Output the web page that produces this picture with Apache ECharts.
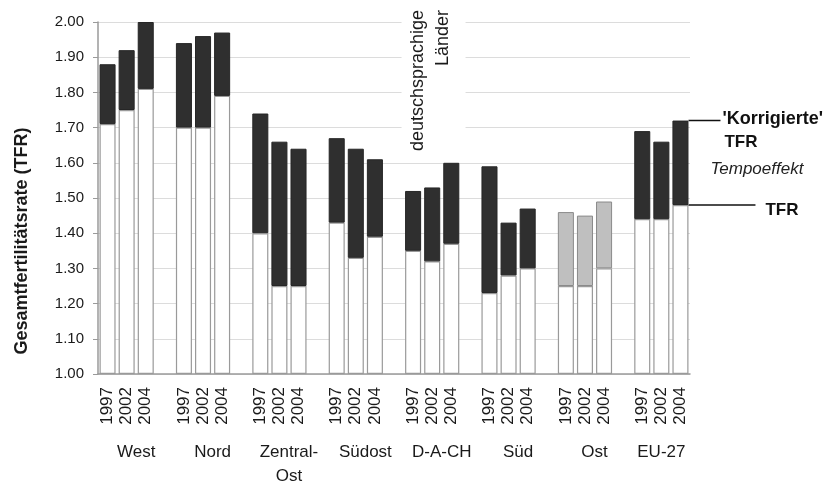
<!DOCTYPE html>
<html>
<head>
<meta charset="utf-8">
<script src="https://cdn.jsdelivr.net/npm/echarts@6/dist/echarts.min.js"></script>
<style>html,body{margin:0;padding:0;background:#fff}#c{width:833px;height:486px}</style>
</head>
<body>
<div id="c"></div>
<script>
// ---- data ----
const regions = ['West', 'Nord', 'Zentral-\nOst', 'Südost', 'D-A-CH', 'Süd', 'Ost', 'EU-27'];
const years = ['1997', '2002', '2004'];
// observed TFR per region (1997, 2002, 2004)
const tfr = [
  [1.71, 1.75, 1.81],
  [1.70, 1.70, 1.79],
  [1.40, 1.25, 1.25],
  [1.43, 1.33, 1.39],
  [1.35, 1.32, 1.37],
  [1.23, 1.28, 1.30],
  [1.25, 1.25, 1.30],
  [1.44, 1.44, 1.48]
];
// tempo-adjusted ('korrigierte') TFR per region
const korrigiert = [
  [1.88, 1.92, 2.00],
  [1.94, 1.96, 1.97],
  [1.74, 1.66, 1.64],
  [1.67, 1.64, 1.61],
  [1.52, 1.53, 1.60],
  [1.59, 1.43, 1.47],
  [1.46, 1.45, 1.49],
  [1.69, 1.66, 1.72]
];
const greyRegion = 'Ost';
const yTicks = { min: 1.0, max: 2.0, step: 0.1 };

// ---- build slots (3 bars per region + one blank slot between regions) ----
const FONT = '"Liberation Sans", Arial, Helvetica, sans-serif';
const slots = [], tfrData = [], tempoData = [], groupSlots = [];
regions.forEach((r, g) => {
  const idx = [];
  years.forEach((y, k) => {
    idx.push(slots.length);
    slots.push(y);
    tfrData.push(tfr[g][k]);
    const d = +(korrigiert[g][k] - tfr[g][k]).toFixed(3);
    if (r === greyRegion) {
      tempoData.push({ value: d, itemStyle: { color: '#bfbfbf', borderColor: '#8a8a8a' } });
    } else {
      tempoData.push(d);
    }
  });
  groupSlots.push(idx);
  if (g < regions.length - 1) { slots.push(''); tfrData.push('-'); tempoData.push('-'); }
});

const chart = echarts.init(document.getElementById('c'), null, { renderer: 'canvas' });
chart.setOption({
  animation: false,
  backgroundColor: '#fff',
  grid: { left: 98, right: 143, top: 22, bottom: 112, containLabel: false },
  xAxis: {
    type: 'category', data: slots, boundaryGap: true,
    axisLine: { lineStyle: { color: '#9a9a9a', width: 1.5 } },
    axisTick: { show: false },
    axisLabel: { interval: 0, rotate: 90, fontSize: 17, color: '#1a1a1a', fontFamily: FONT, margin: 13 }
  },
  yAxis: {
    type: 'value', min: yTicks.min, max: yTicks.max, interval: yTicks.step, startValue: yTicks.min,
    axisLine: { show: true, lineStyle: { color: '#9a9a9a', width: 1.5 } },
    axisTick: { show: true, length: 5, lineStyle: { color: '#9a9a9a' } },
    axisLabel: { formatter: v => v.toFixed(2), fontSize: 15, color: '#1a1a1a', fontFamily: FONT, margin: 14 },
    splitLine: { lineStyle: { color: '#dcdcdc', width: 1.2 } }
  },
  series: [
    {
      name: 'TFR', type: 'bar', stack: 'a', data: tfrData, barWidth: '84%',
      itemStyle: { color: '#ffffff', borderColor: '#9a9a9a', borderWidth: 1.2 }
    },
    {
      name: 'Tempoeffekt', type: 'bar', stack: 'a', data: tempoData, barWidth: '84%',
      itemStyle: { color: '#2f2f2f', borderColor: '#262626', borderWidth: 1 }
    }
  ]
});

// ---- annotations positioned from data coordinates ----
const px = i => chart.convertToPixel({ xAxisIndex: 0 }, i);
const py = v => chart.convertToPixel({ yAxisIndex: 0 }, v);
const slotW = px(1) - px(0);
const graphics = [];

// group labels under the years
groupSlots.forEach((idx, g) => {
  let cx;
  if (g < regions.length - 1) cx = (px(idx[1]) + px(idx[2])) / 2;
  else cx = px(idx[1]);
  graphics.push({
    type: 'text', x: cx, y: 440, z: 10,
    style: { text: regions[g], font: '17px ' + FONT, fill: '#1a1a1a', align: 'center', verticalAlign: 'top', lineHeight: 24 }
  });
});

// y-axis title
graphics.push({
  type: 'text', x: 22, y: 241, rotation: Math.PI / 2, z: 10,
  style: { text: 'Gesamtfertilitätsrate (TFR)', font: 'bold 18px ' + FONT, fill: '#1a1a1a', align: 'center', verticalAlign: 'middle' }
});

// "deutschsprachige Länder" label with white box above the D-A-CH group
const dachIdx = groupSlots[4];
graphics.push({
  type: 'text', x: px(dachIdx[0]) - slotW * 0.5 - 2, y: 8, rotation: Math.PI / 2, z: 20,
  style: {
    text: 'deutschsprachige\nLänder', font: '18px ' + FONT, fill: '#1a1a1a',
    align: 'right', verticalAlign: 'top', lineHeight: 25,
    backgroundColor: '#ffffff', padding: [4, 2, 10, 4]
  }
});

// right-hand legend-like annotation on the last EU-27 bar
const lastG = groupSlots.length - 1, lastK = years.length - 1;
const lastIdx = groupSlots[lastG][lastK];
const edge = px(lastIdx) + slotW * 0.42;
const yTop = py(korrigiert[lastG][lastK]);
const yTfr = py(tfr[lastG][lastK]);
graphics.push(
  { type: 'line', z: 15, shape: { x1: edge, y1: yTop, x2: edge + 32, y2: yTop }, style: { stroke: '#111', lineWidth: 1.6 } },
  { type: 'line', z: 15, shape: { x1: edge, y1: yTfr, x2: edge + 67, y2: yTfr }, style: { stroke: '#111', lineWidth: 1.6 } },
  { type: 'text', z: 15, x: edge + 34, y: yTop - 2, style: { text: "'Korrigierte'", font: 'bold 18px ' + FONT, fill: '#111', align: 'left', verticalAlign: 'middle' } },
  { type: 'text', z: 15, x: edge + 36, y: yTop + 22, style: { text: 'TFR', font: 'bold 17px ' + FONT, fill: '#111', align: 'left', verticalAlign: 'middle' } },
  { type: 'text', z: 15, x: edge + 22, y: yTop + 49, style: { text: 'Tempoeffekt', font: 'italic 17px ' + FONT, fill: '#222', align: 'left', verticalAlign: 'middle' } },
  { type: 'text', z: 15, x: edge + 77, y: yTfr + 5, style: { text: 'TFR', font: 'bold 17px ' + FONT, fill: '#111', align: 'left', verticalAlign: 'middle' } }
);

chart.setOption({ graphic: graphics });
</script>
</body>
</html>
